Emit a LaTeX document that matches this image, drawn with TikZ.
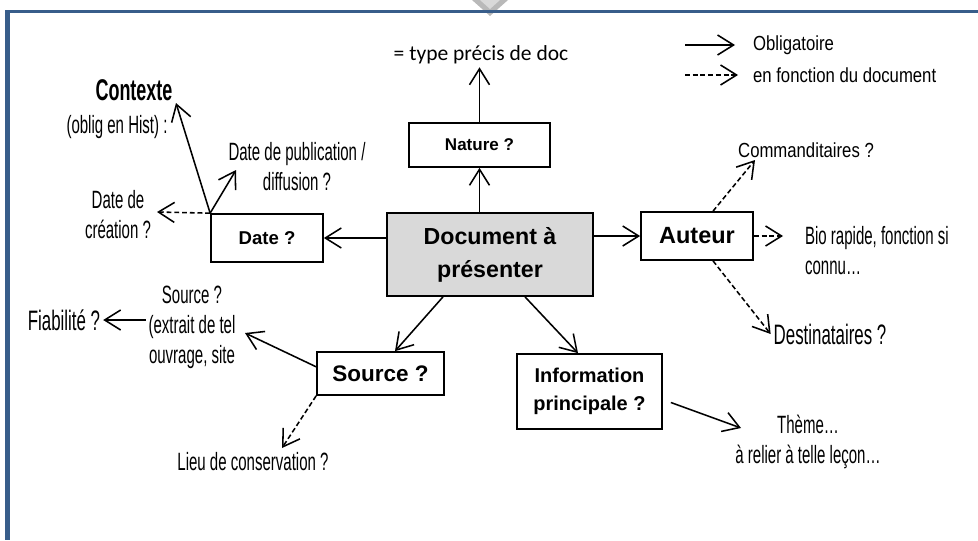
\documentclass[tikz,border=0pt]{standalone}
\usepackage{fontspec}
\setmainfont{Liberation Sans}
\newfontfamily\condfont[FakeStretch=0.6]{Liberation Sans}
\newfontfamily\narrowfont[FakeStretch=0.82]{Liberation Sans}
\newfontfamily\calfont{Carlito}
\usepackage{tikz}
\usetikzlibrary{calc,arrows.meta}
\definecolor{framebleu}{RGB}{56,93,138}
\definecolor{docgris}{RGB}{217,217,217}
\tikzset{
  boite/.style={draw, line width=1.2pt, align=center, font=\bfseries, inner sep=2pt},
  cond/.style={align=center, inner sep=2pt, font=\condfont\fontsize{17.8}{21.3}\selectfont},
  condgros/.style={cond, font=\condfont\fontsize{20}{21.3}\selectfont},
  etroit/.style={inner sep=2pt, font=\narrowfont\fontsize{14.5}{17}\selectfont},
  fleche/.style={-{Straight Barb[length=0.4cm,width=0.5cm]}, line width=1.1pt},
  pointille/.style={fleche, dash pattern=on 3.5pt off 2pt},
}

\begin{document}
\begin{tikzpicture}[x=0.025cm,y=-0.025cm]
  \useasboundingbox (0,0) rectangle (978,540);
  % cadre
  \fill[gray!55] (472,0) -- (508,0) -- (490,16) -- cycle;
  \fill[gray!30] (480,0) -- (500,0) -- (490,9) -- cycle;
  \draw[framebleu, line width=2.8pt] (5,11.5) -- (978,11.5);
  \draw[framebleu, line width=3pt] (7.5,11.5) -- (7.5,540);

  % boites
  \node[boite, fill=docgris, minimum width=5.15cm, minimum height=2.075cm, font=\bfseries\fontsize{16.5}{23.5}\selectfont] (doc) at (490,254.5) {Document à\\présenter};
  \node[boite, minimum width=3.525cm, minimum height=1.1cm, font=\bfseries\fontsize{12.1}{14}\selectfont] (nature) at (479.5,145) {Nature ?};
  \node[boite, minimum width=2.8cm, minimum height=1.2cm, font=\bfseries\fontsize{13.2}{15}\selectfont] (date) at (267,238) {Date ?};
  \node[boite, minimum width=2.8cm, minimum height=1.2cm, font=\bfseries\fontsize{16.7}{19}\selectfont] (auteur) at (697,236) {Auteur};
  \node[boite, minimum width=3.175cm, minimum height=1.075cm, font=\bfseries\fontsize{16}{18}\selectfont] (source) at (380.5,373.5) {Source ?};
  \node[boite, minimum width=3.625cm, minimum height=1.875cm, font=\bfseries\fontsize{14.2}{20}\selectfont] (info) at (589.5,391.5) {Information\\principale ?};

  % textes
  \node[inner sep=2pt, font=\calfont\fontsize{15.3}{18}\selectfont] (natdesc) at (481,55) {= type précis de doc};
  \node[condgros, font=\condfont\bfseries\fontsize{21.3}{21.3}\selectfont] (contexte) at (134,90) {Contexte};
  \node[cond] (oblig) at (117,127) {(oblig en Hist) :};
  \node[cond] (datepub) at (297,167) {Date de publication /\\diffusion ?};
  \node[cond] (datecre) at (118,214.5) {Date de\\création ?};
  \node[cond] (srcdesc) at (192,327) {Source ?\\(extrait de  tel\\ouvrage, site};
  \node[condgros] (fiab) at (64,320) {Fiabilité ?};
  \node[cond] (lieu) at (253,462) {Lieu de conservation ?};
  \node[cond] (theme) at (808,442) {Thème…\\à relier à telle leçon…};
  \node[cond, anchor=west, align=left] (bio) at (802,251) {Bio rapide, fonction si\\connu…};
  \node[condgros] (dest) at (830,334) {Destinataires ?};
  \node[etroit] (comm) at (806,150) {Commanditaires ?};

  % legende
  \node[etroit, anchor=west] (oblileg) at (750,45) {Obligatoire};
  \node[etroit, anchor=west] (fonctleg) at (750,75) {en fonction du document};
  \coordinate (l1) at (685,45);
  \coordinate (l2) at (685,75);
  \draw[fleche] (l1) -- ($(oblileg.west)+(-15,0)$);
  \draw[pointille] (l2) -- ($(fonctleg.west)+(-12,0)$);

  % pointes libres
  \coordinate (ctxtip) at (176,103);
  \coordinate (pubtip) at (236,170);
  \coordinate (cretip) at (157,212);
  \coordinate (srctip) at (245,333);
  \coordinate (lieutip) at (282,448);
  \coordinate (commtip) at (755,160);
  \coordinate (biotip) at (783,236);
  \coordinate (themetip) at (741,428);

  % fleches du document
  \draw[fleche] (nature.south |- doc.north) -- (nature.south);
  \draw[fleche] (nature.north) -- (nature.north |- natdesc.south);
  \draw[fleche] (doc.west |- date.east) -- (date.east);
  \draw[fleche] (doc.east |- auteur.west) -- (auteur.west);
  \draw[fleche] ($(doc.south)+(-47,0)$) -- ($(source.north)+(14.5,0)$);
  \draw[fleche] ($(doc.south)+(35,0)$) -- ($(info.north)+(-11.5,0)$);

  % date
  \draw[fleche] (date.north west) -- (ctxtip);
  \draw[fleche] (date.north west) -- (pubtip);
  \draw[pointille] (date.north west) -- (cretip);

  % source
  \draw[fleche] ($(source.north west)!0.35!(source.south west)$) -- (srctip);
  \draw[fleche] (srcdesc.west |- fiab) -- (fiab.east);
  \draw[pointille] (source.south west) -- (lieutip);

  % auteur
  \draw[pointille] ($(auteur.north)+(16,0)$) -- (commtip);
  \draw[pointille] (auteur.east) -- (biotip);
  \draw[pointille] ($(auteur.south)+(16,0)$) -- (dest.west);

  % information
  \draw[fleche] ($(info.east)+(8,11)$) -- (themetip);
\end{tikzpicture}
\end{document}
